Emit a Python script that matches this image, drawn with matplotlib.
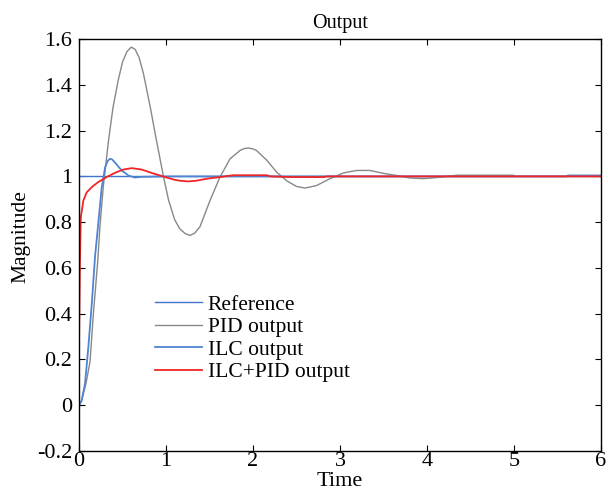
import matplotlib
matplotlib.use("Agg")
import matplotlib.pyplot as plt

plt.rcParams['font.family'] = ['Liberation Serif', 'DejaVu Serif']
plt.rcParams['axes.unicode_minus'] = False

# Reference
ref_t = [0.0, 6.0]
ref_v = [1.0, 1.0]

# PID output
pid_t = [0.0, 0.03, 0.08, 0.126, 0.165, 0.215, 0.24, 0.28, 0.34, 0.39, 0.45, 0.50,
         0.55, 0.60, 0.645, 0.69, 0.74, 0.82, 0.89, 0.97, 1.03, 1.10, 1.16, 1.22,
         1.276, 1.33, 1.39, 1.506, 1.62, 1.736, 1.85, 1.90, 1.946, 2.0, 2.04, 2.16,
         2.27, 2.39, 2.50, 2.60, 2.73, 2.885, 3.04, 3.19, 3.345, 3.50, 3.65, 3.80,
         3.96, 4.11, 4.34, 4.99, 5.03, 6.0]
pid_v = [0.0, 0.02, 0.095, 0.19, 0.40, 0.63, 0.78, 0.96, 1.16, 1.30, 1.42, 1.50,
         1.545, 1.565, 1.555, 1.52, 1.45, 1.30, 1.157, 1.0, 0.895, 0.81, 0.77, 0.75,
         0.742, 0.752, 0.78, 0.895, 0.997, 1.077, 1.113, 1.122, 1.124, 1.12, 1.113,
         1.07, 1.019, 0.98, 0.956, 0.949, 0.96, 0.99, 1.015, 1.026, 1.026, 1.013,
         1.004, 0.993, 0.99, 0.995, 1.005, 1.005, 1.0, 1.0]

# ILC output
ilc_t = [0.0, 0.03, 0.069, 0.107, 0.146, 0.184, 0.22, 0.26, 0.30, 0.33, 0.356, 0.38,
         0.41, 0.49, 0.567, 0.64, 0.72, 1.0, 5.6, 5.62, 6.0]
ilc_v = [0.0, 0.02, 0.095, 0.255, 0.44, 0.65, 0.79, 0.95, 1.04, 1.068, 1.077, 1.074,
         1.062, 1.026, 1.004, 0.995, 0.998, 1.0, 1.0, 1.004, 1.004]

# ILC+PID output
ip_t = [0.0, 0.01, 0.02, 0.05, 0.088, 0.146, 0.22, 0.318, 0.41, 0.51, 0.606, 0.72,
        0.835, 0.99, 1.10, 1.16, 1.256, 1.35, 1.47, 1.62, 1.77, 2.16, 2.2, 2.43, 2.81,
        2.85, 6.0]
ip_v = [0.27, 0.62, 0.82, 0.895, 0.93, 0.953, 0.975, 0.997, 1.015, 1.03, 1.036, 1.03,
        1.015, 0.997, 0.985, 0.981, 0.978, 0.981, 0.99, 0.997, 1.005, 1.005, 1.0, 0.997,
        0.997, 1.0, 1.0]

xticks = [0, 1, 2, 3, 4, 5, 6]
xticklabels = ['0', '1', '2', '3', '4', '5', '6']
yticks = [-0.2, 0, 0.2, 0.4, 0.6, 0.8, 1.0, 1.2, 1.4, 1.6]
yticklabels = ['-0.2', '0', '0.2', '0.4', '0.6', '0.8', '1', '1.2', '1.4', '1.6']

fig = plt.figure(figsize=(6.08, 4.95), dpi=100)
ax = fig.add_axes([0.130, 0.089, 0.8585, 0.832])

ax.plot(ref_t, ref_v, color='#3f74cc', lw=1.0, label='Reference')
ax.plot(pid_t, pid_v, color='#888888', lw=1.0, label='PID output')
ax.plot(ilc_t, ilc_v, color='#4f84d2', lw=1.3, label='ILC output')
ax.plot(ip_t, ip_v, color='#f02525', lw=1.3, label='ILC+PID output')

ax.set_xlim(0, 6)
ax.set_ylim(-0.2, 1.6)
ax.set_xticks(xticks)
ax.set_xticklabels(xticklabels)
ax.set_yticks(yticks)
ax.set_yticklabels(yticklabels)
ax.tick_params(direction='in', top=True, right=True, labelsize=16, length=4)
ax.tick_params(axis='y', pad=5)
ax.tick_params(axis='x', pad=1)
for s in ax.spines.values():
    s.set_linewidth(1.0)

ax.set_title('Output', fontsize=14.5, pad=8)
ax.set_xlabel('Time', fontsize=16)
ax.xaxis.set_label_coords(0.5, -0.052)
ax.set_ylabel('Magnitude', fontsize=15.5)
ax.yaxis.set_label_coords(-0.094, 0.52)

leg = ax.legend(loc='upper left', bbox_to_anchor=(0.1456, 0.380), frameon=False,
                fontsize=15.5, handlelength=2.2, handletextpad=0.25, labelspacing=0.12,
                borderpad=0, borderaxespad=0)

fig.savefig('out.png', dpi=100)
